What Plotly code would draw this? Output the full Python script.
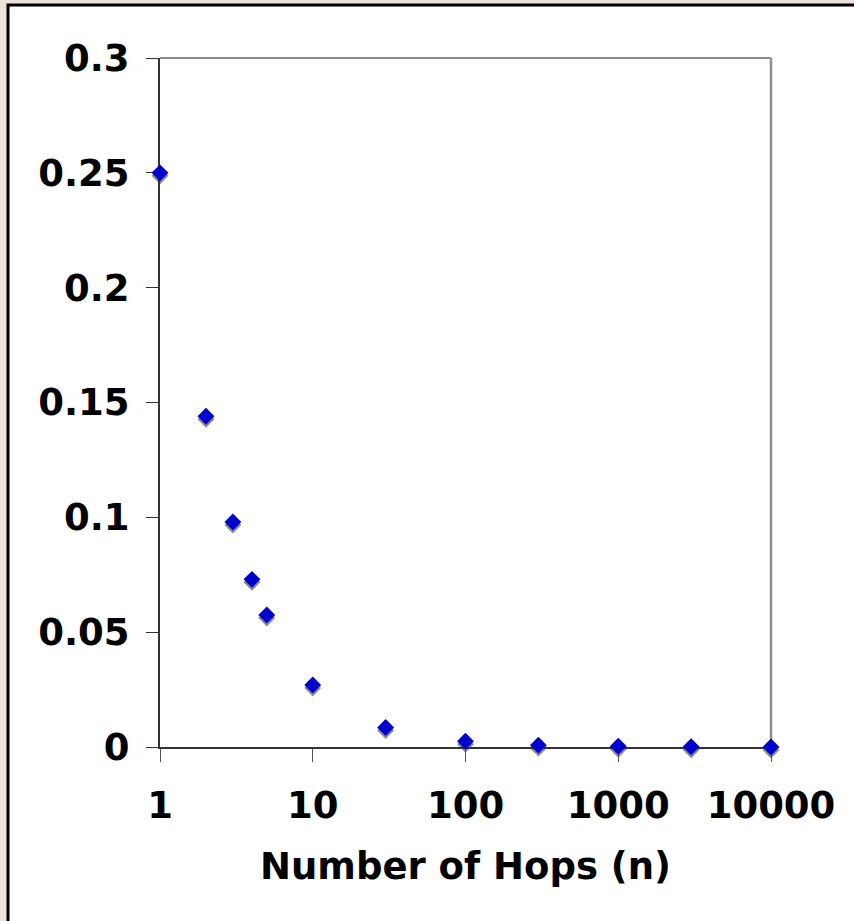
import plotly.graph_objects as go

hops = [1, 2, 3, 4, 5, 10, 30, 100, 300, 1000, 3000, 10000]
prob = [0.25, 0.144, 0.098, 0.073, 0.0575, 0.027, 0.0085, 0.0025, 0.0008, 0.0003, 0.0001, 0.00003]

x_ticks = [1, 10, 100, 1000, 10000]
x_ticktext = ["1", "10", "100", "1000", "10000"]
y_ticks = [0, 0.05, 0.1, 0.15, 0.2, 0.25, 0.3]
y_ticktext = ["0", "0.05", "0.1", "0.15", "0.2", "0.25", "0.3"]

FONT = dict(family="DejaVu Sans", size=37, color="black", weight="bold")

W, H = 854, 921
SHIFT = 3  # shadow offset in px
L, R, T, B = 160, 83, 58, 174 - SHIFT
paper_h = H - T - B
s = SHIFT / paper_h

fig = go.Figure()
# shadow (lower subplot, drawn first)
fig.add_trace(go.Scatter(
    x=hops, y=prob, mode="markers", xaxis="x", yaxis="y",
    marker=dict(symbol="diamond", size=13, color="#8a8a8a", line=dict(width=0)),
    cliponaxis=False, hoverinfo="skip", showlegend=False,
))
# main markers
fig.add_trace(go.Scatter(
    x=hops, y=prob, mode="markers", xaxis="x", yaxis="y2",
    marker=dict(symbol="diamond", size=13, color="#0000CC", line=dict(width=0)),
    cliponaxis=False, showlegend=False,
))

pw = W - L - R
fx = lambda px: (px - L) / pw
fy = lambda py: (H - B - py) / paper_h

shapes = [
    dict(type="rect", xref="paper", yref="paper", x0=fx(8), x1=fx(870), y0=fy(940), y1=fy(5),
         fillcolor="white", line=dict(color="black", width=3), layer="below"),
    dict(type="line", xref="paper", yref="paper", x0=0, x1=1, y0=1, y1=1,
         line=dict(color="#8c8c8c", width=2), layer="below"),
    dict(type="line", xref="paper", yref="paper", x0=1, x1=1, y0=s, y1=1,
         line=dict(color="#8c8c8c", width=2.5), layer="below"),
]

fig.update_layout(
    width=W, height=H,
    margin=dict(l=L, r=R, t=T, b=B, pad=0),
    paper_bgcolor="#ECE3DC", plot_bgcolor="rgba(0,0,0,0)",
    font=FONT,
    shapes=shapes,
    xaxis=dict(
        type="log", range=[0, 4], tickvals=x_ticks, ticktext=x_ticktext,
        anchor="y2",
        showgrid=False, zeroline=False, showline=True, linecolor="#333333", linewidth=2,
        ticks="outside", ticklen=13, tickwidth=1, tickcolor="#555555",
        tickfont=FONT, ticklabelstandoff=12, layer="below traces",
        title=dict(text="Number of Hops (n)", font=FONT, standoff=27),
    ),
    yaxis=dict(
        domain=[0, 1 - s], range=[0, 0.3], anchor="x", visible=False,
    ),
    yaxis2=dict(
        domain=[s, 1], range=[0, 0.3], anchor="x",
        tickvals=y_ticks, ticktext=y_ticktext,
        showgrid=False, zeroline=False, showline=True, linecolor="#333333", linewidth=2,
        ticks="outside", ticklen=12, tickwidth=1, tickcolor="#333333",
        tickfont=FONT, ticklabelstandoff=9, layer="below traces",
    ),
)

fig.write_html("out.html")
